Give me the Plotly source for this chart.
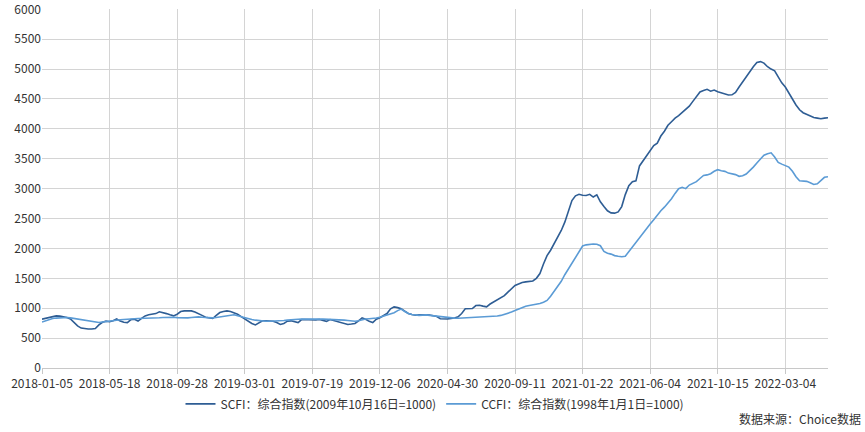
import plotly.graph_objects as go

tick_labels = ["2018-01-05", "2018-05-18", "2018-09-28", "2019-03-01", "2019-07-19",
               "2019-12-06", "2020-04-30", "2020-09-11", "2021-01-22", "2021-06-04",
               "2021-10-15", "2022-03-04"]

y_ticks = [0, 500, 1000, 1500, 2000, 2500, 3000, 3500, 4000, 4500, 5000, 5500, 6000]

scfi = [817, 830, 845, 860, 872, 868, 858, 845, 820, 760,
        705, 668, 655, 652, 652, 660, 720, 765, 783, 775,
        790, 820, 785, 765, 760, 810, 815, 785, 830, 872,
        890, 895, 910, 940, 930, 910, 890, 872, 900, 945,
        955, 960, 955, 935, 912, 880, 850, 838, 828, 880,
        928, 945, 955, 945, 928, 900, 860, 820, 790, 745,
        720, 760, 790, 790, 785, 783, 760, 728, 745, 783,
        789, 770, 760, 811, 808, 800, 800, 805, 811, 800,
        780, 811, 795, 772, 755, 740, 728, 735, 745, 790,
        839, 815, 780, 761, 815, 840, 880, 911, 990, 1022,
        1010, 990, 950, 911, 895, 883, 888, 894, 890, 885,
        878, 860, 825, 820, 820, 830, 835, 856, 911, 990,
        990, 994, 1045, 1050, 1035, 1022, 1070, 1106, 1130, 1170,
        1210, 1270, 1328, 1380, 1405, 1430, 1440, 1452, 1456, 1500,
        1580, 1740, 1880, 1970, 2080, 2170, 2300, 2440, 2640, 2800,
        2880, 2905, 2890, 2885, 2905, 2860, 2895, 2780, 2700, 2630,
        2594, 2590, 2611, 2700, 2900, 3050, 3115, 3130, 3380, 3470,
        3560, 3650, 3720, 3760, 3880, 3960, 4060, 4120, 4180, 4220,
        4270, 4320, 4380, 4460, 4540, 4617, 4640, 4661, 4630, 4650,
        4620, 4600, 4580, 4567, 4570, 4610, 4700, 4790, 4880, 4960,
        5040, 5110, 5125, 5100, 5040, 5000, 4970, 4870, 4770, 4700,
        4590, 4500, 4400, 4320, 4270, 4240, 4210, 4190, 4180, 4170,
        4180, 4185]

ccfi = [770, 790, 815, 828, 835, 842, 848, 845, 838, 828,
        815, 800, 790, 780, 772, 765, 762, 770, 775, 783,
        795, 800, 808, 815, 817, 820, 825, 828, 828, 830,
        830, 833, 837, 840, 845, 850, 855, 850, 842, 838,
        835, 838, 845, 852, 856, 850, 844, 840, 839, 845,
        856, 865, 878, 885, 890, 875, 856, 840, 828, 810,
        800, 792, 785, 783, 783, 783, 785, 789, 795, 800,
        808, 811, 815, 817, 820, 822, 822, 822, 820, 818,
        817, 815, 812, 808, 805, 800, 795, 788, 783, 790,
        810, 820, 825, 828, 835, 850, 867, 885, 905, 925,
        960, 985, 945, 911, 895, 885, 880, 885, 889, 880,
        872, 868, 860, 850, 840, 838, 835, 832, 835, 838,
        840, 844, 845, 848, 852, 856, 860, 865, 870, 880,
        895, 915, 935, 960, 985, 1010, 1033, 1045, 1055, 1061,
        1080, 1100, 1130, 1200, 1280, 1360, 1450, 1560, 1660, 1760,
        1860, 1960, 2040, 2060, 2070, 2075, 2070, 2045, 1950, 1920,
        1905, 1880, 1870, 1862, 1870, 1950, 2030, 2110, 2190, 2270,
        2340, 2410, 2480, 2560, 2630, 2690, 2760, 2830, 2920, 3000,
        3022, 3000, 3060, 3090, 3117, 3170, 3220, 3230, 3250, 3290,
        3317, 3300, 3289, 3260, 3250, 3235, 3206, 3215, 3245, 3300,
        3360, 3430, 3500, 3560, 3585, 3600, 3530, 3440, 3410, 3385,
        3360, 3290, 3200, 3133, 3125, 3122, 3100, 3070, 3080, 3130,
        3190, 3200]

week_idx = list(range(len(scfi)))
tick_step = 19
tick_pos = [k * tick_step for k in range(len(tick_labels))]

FONT = "Noto Sans CJK SC, Microsoft YaHei, sans-serif"

fig = go.Figure()
fig.add_trace(go.Scatter(x=week_idx, y=scfi, mode="lines",
                         name="SCFI：综合指数(2009年10月16日=1000)",
                         line=dict(color="#2e5d94", width=1.6)))
fig.add_trace(go.Scatter(x=week_idx, y=ccfi, mode="lines",
                         name="CCFI：综合指数(1998年1月1日=1000)",
                         line=dict(color="#5b9bd5", width=1.6)))

fig.update_layout(
    width=865, height=432,
    margin=dict(l=42, r=37, t=9, b=64, autoexpand=False),
    paper_bgcolor="white", plot_bgcolor="white",
    font=dict(family=FONT, size=12, color="#333333"),
    showlegend=True,
    legend=dict(orientation="h", x=0.5, xanchor="center", y=-0.1, yanchor="middle",
                font=dict(size=12, color="#333333"), itemwidth=30,
                bgcolor="rgba(0,0,0,0)"),
    annotations=[dict(text="数据来源：Choice数据", xref="paper", yref="paper",
                      x=1.045, y=-0.142, xanchor="right", yanchor="middle",
                      showarrow=False, font=dict(size=12, color="#333333"))],
)
fig.update_xaxes(range=[0, len(scfi) - 1], tickvals=tick_pos, ticktext=tick_labels,
                 showgrid=True, gridcolor="#d4d4d4", gridwidth=1,
                 showline=True, linecolor="#c8c8c8", ticks="outside", ticklen=5,
                 tickcolor="#c8c8c8", zeroline=False, tickfont=dict(size=12))
fig.update_yaxes(range=[0, 6005], tickvals=y_ticks, showgrid=True, gridcolor="#d4d4d4",
                 gridwidth=1, zeroline=False, showline=False, ticks="",
                 ticklabeloverflow="allow", tickfont=dict(size=12))

fig.write_html("out.html", config={"displayModeBar": False},
               post_script="document.body.style.margin='0';document.body.style.overflow='hidden';")
